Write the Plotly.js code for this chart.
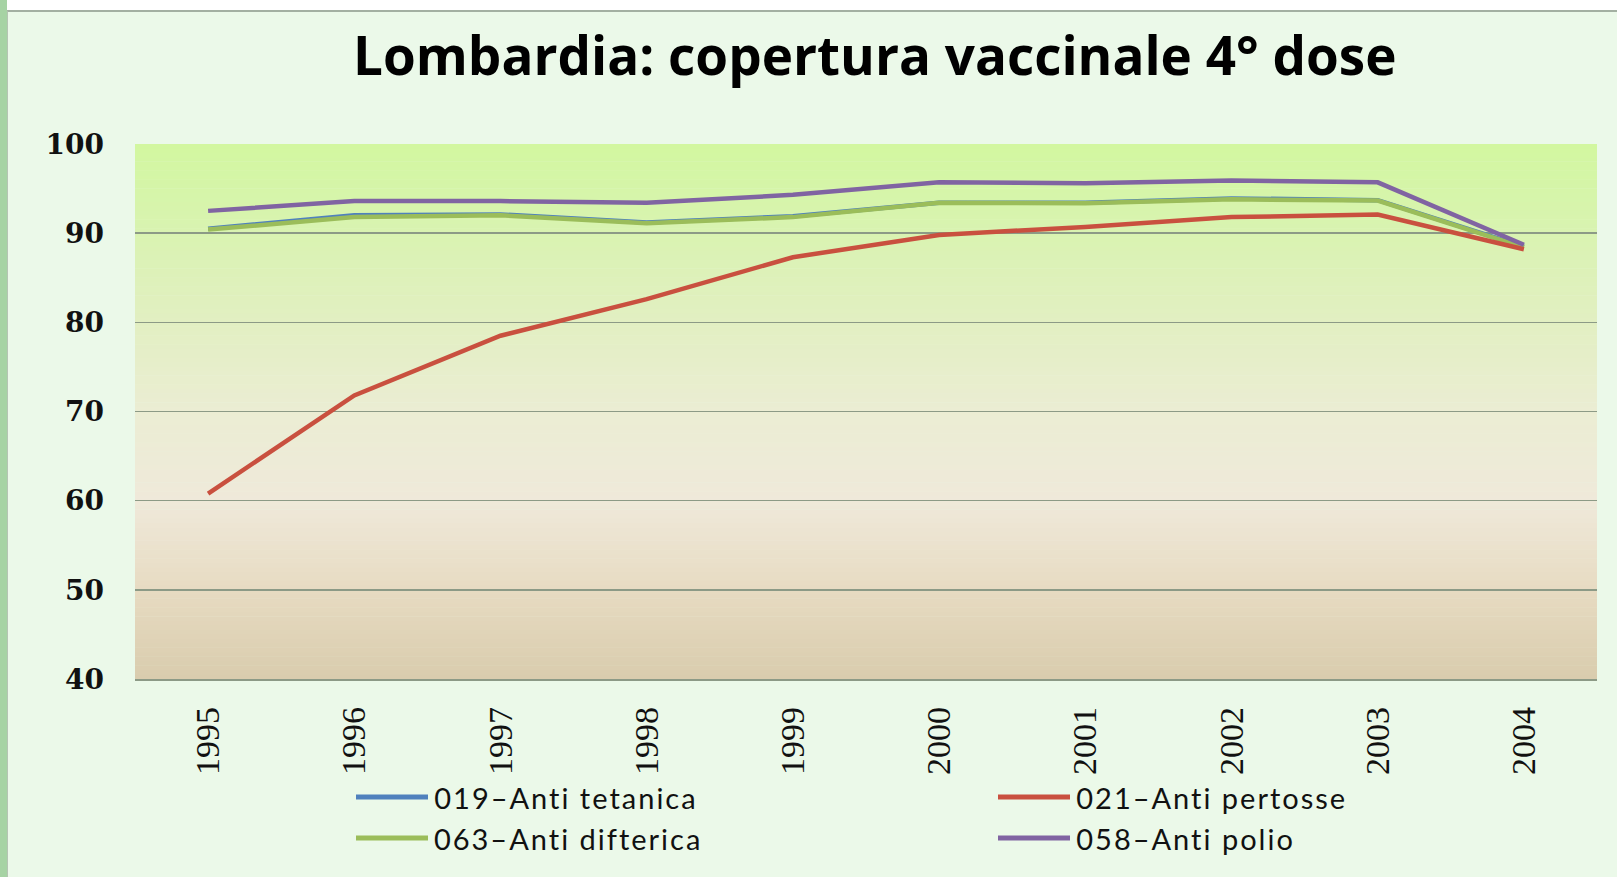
<!DOCTYPE html>
<html>
<head>
<meta charset="utf-8">
<script src="https://cdn.plot.ly/plotly-3.0.1.min.js"></script>
<style>
  html, body { margin: 0; padding: 0; width: 1617px; height: 877px; overflow: hidden; background: #ffffff; }
  #bar { position: absolute; left: 0; top: 0; width: 7px; height: 877px; background: #a6d3a4; }
  #chart { position: absolute; left: 8px; top: 11px; width: 1609px; height: 866px; }
  #frame { position: absolute; left: 7px; top: 10px; width: 1610px; height: 867px;
           border-top: 2px solid #a3b0a2; border-left: 1px solid #b5c4b4;
           box-sizing: border-box; pointer-events: none; }
  #chart .annotation-text { letter-spacing: 2px; }
</style>
</head>
<body>
<div id="bar"></div>
<div id="chart"></div>
<div id="frame"></div>
<script>
// years on the x axis
const years = ['1995', '1996', '1997', '1998', '1999', '2000', '2001', '2002', '2003', '2004'];

// coverage % per series
const antiTetanica = [90.5, 92.0, 92.1, 91.2, 91.9, 93.4, 93.4, 93.9, 93.7, 88.5];
const antiPertosse = [60.8, 71.8, 78.5, 82.6, 87.3, 89.8, 90.7, 91.8, 92.1, 88.2];
const antiDifterica = [90.4, 91.8, 92.0, 91.1, 91.8, 93.4, 93.35, 93.8, 93.65, 88.4];
const antiPolio = [92.5, 93.6, 93.6, 93.4, 94.3, 95.7, 95.6, 95.9, 95.7, 88.7];

const seriesNames = ['019–Anti tetanica', '021–Anti pertosse', '063–Anti difterica', '058–Anti polio'];
const seriesColors = ['#4f81bd', '#c9503f', '#9bbd5a', '#8064a2'];

const yTicks = [40, 50, 60, 70, 80, 90, 100];

// plot background gradient stops (value -> colour)
const bgStops = [
    [40, [217, 204, 173]],
    [50, [231, 219, 194]],
    [60, [239, 233, 218]],
    [70, [235, 237, 211]],
    [80, [226, 239, 194]],
    [90, [217, 243, 177]],
    [100, [210, 247, 160]]
];

function bgColor(v) {
    for (let i = 0; i < bgStops.length - 1; i++) {
        const a = bgStops[i], b = bgStops[i + 1];
        if (v >= a[0] && v <= b[0]) {
            const t = (v - a[0]) / (b[0] - a[0]);
            const c = a[1].map((x, k) => Math.round(x + (b[1][k] - x) * t));
            return 'rgb(' + c.join(',') + ')';
        }
    }
    return 'rgb(210,247,160)';
}

// pixel -> paper helpers (plot area spans x 135..1597, y 144..679 on the page)
const px = X => (X - 135) / 1462;
const py = Y => (679 - Y) / 535;

const shapes = [];
for (let v = 40; v < 100; v += 0.5) {
    shapes.push({
        type: 'rect', xref: 'paper', yref: 'y', layer: 'below',
        x0: 0, x1: 1, y0: v, y1: Math.min(v + 0.55, 100),
        fillcolor: bgColor(v + 0.25), line: { width: 0 }
    });
}

// legend drawn by hand so the sample lines are long like the original
const legendPos = [[356, 797], [998, 797], [356, 838], [998, 838]];
const letterSpacing = 2; // matches the css rule above
const annotations = [];
seriesNames.forEach((name, i) => {
    const [lx, ly] = legendPos[i];
    shapes.push({
        type: 'line', xref: 'paper', yref: 'paper',
        x0: px(lx), x1: px(lx + 72), y0: py(ly), y1: py(ly),
        line: { color: seriesColors[i], width: 5 }
    });
    // plotly centres the measured box, so push right by half the added spacing
    annotations.push({
        text: name, xref: 'paper', yref: 'paper',
        x: px(lx + 76 + name.length * letterSpacing / 2), y: py(ly),
        xanchor: 'left', yanchor: 'middle',
        showarrow: false,
        font: { family: 'Lato, sans-serif', size: 29, color: '#111111' }
    });
});

const data = [antiTetanica, antiPertosse, antiDifterica, antiPolio].map((vals, i) => ({
    x: years,
    y: vals,
    name: seriesNames[i],
    type: 'scatter',
    mode: 'lines',
    line: { color: seriesColors[i], width: 4.5 },
    showlegend: false
}));
// draw tetanica first, difterica on top of it, then the others
const order = [data[0], data[2], data[1], data[3]];

const layout = {
    width: 1609,
    height: 866,
    margin: { l: 127, r: 20, t: 133, b: 198 },
    paper_bgcolor: '#ebf9e9',
    plot_bgcolor: 'rgba(0,0,0,0)',
    showlegend: false,
    title: {
        text: 'Lombardia: copertura vaccinale 4° dose',
        font: { family: 'Open Sans, sans-serif', size: 53, weight: 700, color: '#000000' },
        xref: 'paper', x: 0.506, xanchor: 'center',
        yref: 'container', y: 0.947, yanchor: 'middle'
    },
    xaxis: {
        type: 'category',
        range: [-0.5, 9.5],
        tickangle: -90,
        showgrid: false,
        showline: true,
        linecolor: '#8c9a86',
        linewidth: 1.5,
        ticks: '',
        ticklabelstandoff: 13,
        tickfont: { family: 'Liberation Serif, serif', size: 34, color: '#111111' },
        fixedrange: true
    },
    yaxis: {
        range: [40, 100],
        tickvals: yTicks,
        showgrid: true,
        gridcolor: '#8c9a86',
        gridwidth: 1.5,
        zeroline: false,
        showline: false,
        ticks: '',
        ticklabelstandoff: 30,
        tickfont: { family: 'DejaVu Serif, serif', size: 28, weight: 700, color: '#111111' },
        fixedrange: true
    },
    shapes: shapes,
    annotations: annotations
};

Plotly.newPlot('chart', order, layout, { displayModeBar: false, staticPlot: true });
</script>
</body>
</html>
